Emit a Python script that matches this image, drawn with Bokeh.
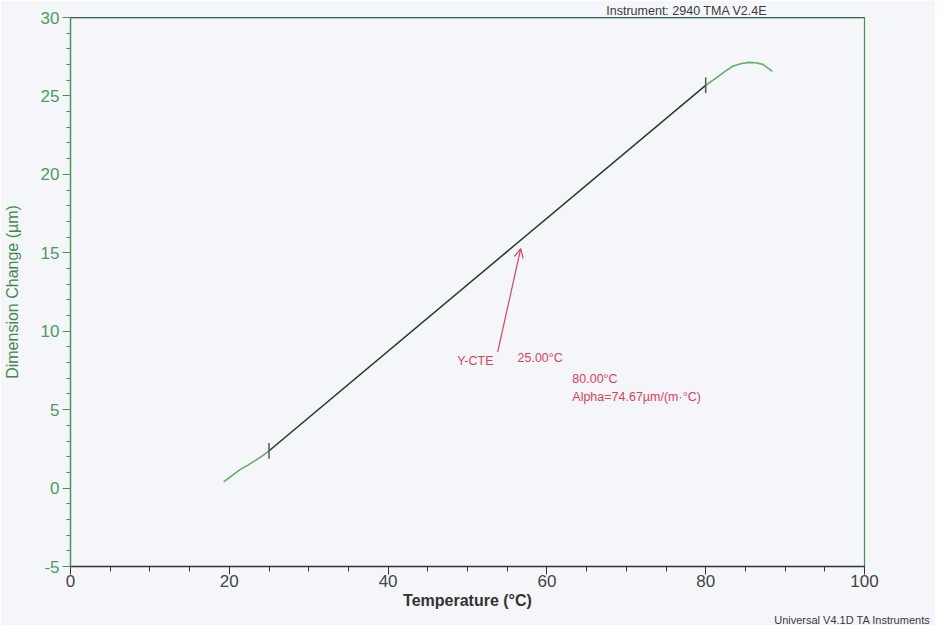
from bokeh.plotting import figure
from bokeh.models import (Range1d, SingleIntervalTicker, Label, Arrow, OpenHead, Span,
                          PrintfTickFormatter, Title)
from bokeh.embed import file_html
from bokeh.resources import INLINE

# ---- data ----
temperature = [19.3, 20.3, 21.3, 22.4, 23.4, 24.3, 25.0, 30, 40, 50, 60, 70,
               80.0, 81.3, 82.4, 83.4, 84.4, 85.4, 86.3, 87.2, 88.4]
dimension = [0.40, 0.78, 1.16, 1.48, 1.80, 2.10, 2.37, 4.49, 8.73, 12.97, 17.20, 21.44,
             25.68, 26.13, 26.55, 26.89, 27.05, 27.14, 27.12, 27.01, 26.57]

fit_temps = [25.0, 80.0]
fit_dims = [2.37, 25.68]

x_ticks_interval = 20
y_ticks_interval = 5

GREEN_AX = "#3f9a55"
GREEN_TXT = "#4c9c5e"
GREEN_CURVE = "#62ad6f"
RED = "#e0405c"
DARK = "#333333"
BG = "#f5f6f9"
FONT = "Liberation Sans"

p = figure(width=935, height=625, x_range=Range1d(0, 100), y_range=Range1d(-5, 30),
           output_backend="svg", toolbar_location=None,
           min_border_left=70, min_border_right=71, min_border_top=17, min_border_bottom=57,
           background_fill_color=BG, border_fill_color=BG)
p.xgrid.visible = False
p.ygrid.visible = False
p.outline_line_color = GREEN_AX
p.outline_line_width = 1.2

# x axis
p.xaxis.ticker = SingleIntervalTicker(interval=x_ticks_interval, num_minor_ticks=4)
p.xaxis.formatter = PrintfTickFormatter(format="%d")
p.xaxis.axis_line_color = DARK
p.xaxis.axis_line_width = 1.3
p.xaxis.major_tick_line_color = DARK
p.xaxis.minor_tick_line_color = DARK
p.xaxis.major_tick_out = 8
p.xaxis.major_tick_in = 0
p.xaxis.minor_tick_out = 5
p.xaxis.minor_tick_in = 0
p.xaxis.major_label_text_color = "#444444"
p.xaxis.major_label_text_font = FONT
p.xaxis.major_label_text_font_size = "17px"
p.xaxis.major_label_standoff = 0
p.xaxis.axis_label = "Temperature (°C)"
p.xaxis.axis_label_text_font = FONT
p.xaxis.axis_label_text_font_size = "16px"
p.xaxis.axis_label_text_font_style = "bold"
p.xaxis.axis_label_text_color = DARK
p.xaxis.axis_label_standoff = 2

# y axis
p.yaxis.ticker = SingleIntervalTicker(interval=y_ticks_interval, num_minor_ticks=5)
p.yaxis.formatter = PrintfTickFormatter(format="%d")
p.yaxis.axis_line_color = GREEN_AX
p.yaxis.axis_line_width = 1.3
p.yaxis.major_tick_line_color = GREEN_AX
p.yaxis.minor_tick_line_color = GREEN_AX
p.yaxis.major_tick_out = 8
p.yaxis.major_tick_in = 0
p.yaxis.minor_tick_out = 4
p.yaxis.minor_tick_in = 0
p.yaxis.major_label_text_color = GREEN_TXT
p.yaxis.major_label_text_font = FONT
p.yaxis.major_label_text_font_size = "17px"
p.yaxis.major_label_standoff = 3
p.yaxis.axis_label = "Dimension Change (µm)"
p.yaxis.axis_label_text_font = FONT
p.yaxis.axis_label_text_font_size = "16px"
p.yaxis.axis_label_text_font_style = "normal"
p.yaxis.axis_label_text_color = "#3c8c50"
p.yaxis.axis_label_standoff = 17

# header text above the plot
p.add_layout(Title(text="Instrument: 2940 TMA V2.4E", align="right", offset=97,
                   text_font=FONT, text_font_size="12.5px", text_font_style="normal",
                   text_color="#3a3a3a", standoff=0), "above")

# footer text below the plot
p.add_layout(Title(text="Universal V4.1D TA Instruments", align="right", offset=-66,
                   text_font=FONT, text_font_size="11px", text_font_style="normal",
                   text_color="#3a3a3a", standoff=0), "below")

# top border in dark
p.add_layout(Span(location=30, dimension="width", line_color=DARK, line_width=1.3))

# measured curve
p.line(temperature, dimension, line_color=GREEN_CURVE, line_width=1.6)

# CTE fit line and end marks
p.line(fit_temps, fit_dims, line_color="#2f2f2f", line_width=1.2)
p.segment(x0=fit_temps, y0=[d - 0.5 for d in fit_dims], x1=fit_temps,
          y1=[d + 0.5 for d in fit_dims], line_color="#555555", line_width=1.5)

# annotation arrow
p.add_layout(Arrow(end=OpenHead(size=9, line_color=RED, line_width=1.2),
                   x_start=53.8, y_start=8.66, x_end=56.7, y_end=15.26,
                   line_color=RED, line_width=1.2))

def lab(x, y, text, size, color):
    p.add_layout(Label(x=x, y=y, text=text, text_font=FONT, text_font_size=size,
                       text_color=color, text_align="left", text_baseline="middle"))

lab(48.7, 8.1, "Y-CTE", "12.5px", RED)
lab(56.3, 8.28, "25.00°C", "12.5px", RED)
lab(63.2, 6.94, "80.00°C", "12.5px", RED)
lab(63.2, 5.8, "Alpha=74.67µm/(m·°C)", "12.5px", RED)

open("out.html", "w").write(file_html(p, INLINE))
